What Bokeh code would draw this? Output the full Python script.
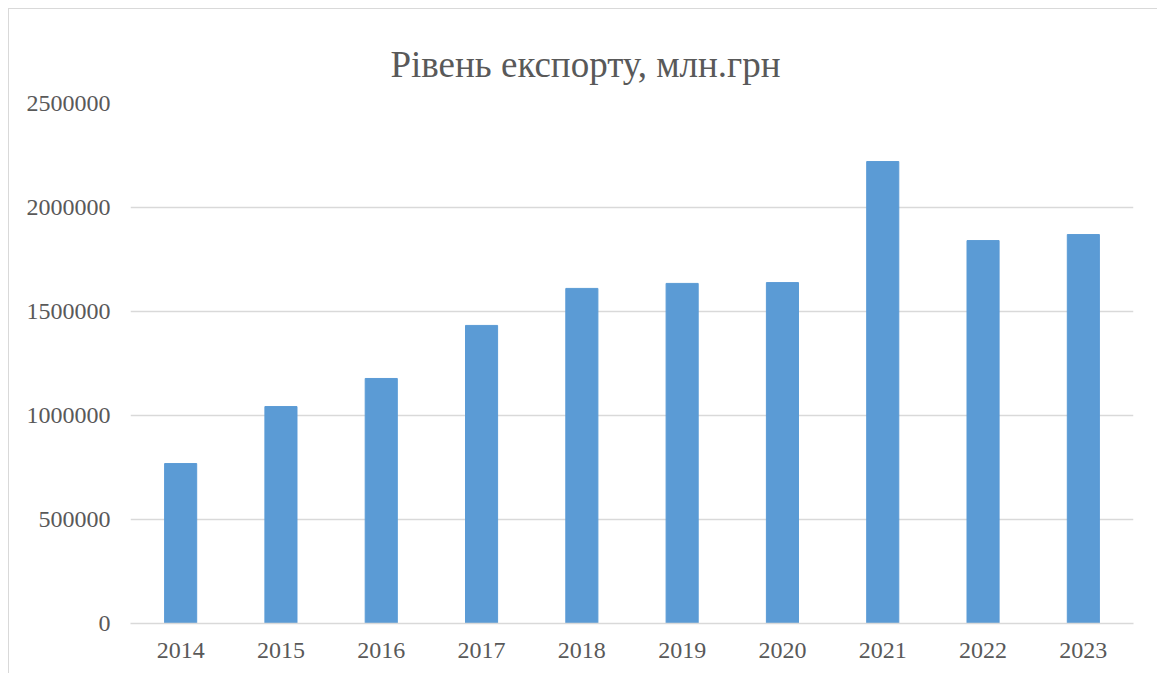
from bokeh.plotting import figure
from bokeh.models import FixedTicker, NumeralTickFormatter, Title
from bokeh.embed import file_html
from bokeh.resources import INLINE

years = ["2014", "2015", "2016", "2017", "2018", "2019", "2020", "2021", "2022", "2023"]
export_values = [769000, 1043000, 1178000, 1433000, 1611000, 1635000, 1639000, 2221000, 1841000, 1870000]
y_ticks = [0, 500000, 1000000, 1500000, 2000000, 2500000]

FONT = "Liberation Serif"
TXT = "#595959"
GRID = "#D9D9D9"

p = figure(x_range=years, y_range=(0, 2500000), width=1149, height=665,
           output_backend="svg", toolbar_location=None,
           min_border_left=121, min_border_right=25, min_border_top=94, min_border_bottom=51)
p.styles = {"border-left": "1.5px solid #D9D9D9", "border-top": "1.5px solid #D9D9D9",
            "box-sizing": "border-box", "margin-left": "8px", "margin-top": "8px"}

p.vbar(x=years, top=export_values, width=0.32, color="#5B9BD5")

t = Title(text="Рівень експорту, млн.грн", align="left", vertical_align="top",
          text_font=FONT, text_font_size="37px", text_font_style="normal", text_color=TXT,
          standoff=33, offset=260)
p.add_layout(t, "above")
p.title.visible = False

p.outline_line_color = None
p.background_fill_color = "white"
p.border_fill_color = "white"

p.yaxis.ticker = FixedTicker(ticks=y_ticks)
p.yaxis.formatter = NumeralTickFormatter(format="0")
p.yaxis.axis_line_color = None
p.yaxis.major_tick_line_color = None
p.yaxis.minor_tick_line_color = None
p.yaxis.major_label_text_font = FONT
p.yaxis.major_label_text_font_size = "24px"
p.yaxis.major_label_text_color = TXT
p.yaxis.major_label_standoff = 14

p.xaxis.axis_line_color = GRID
p.xaxis.axis_line_width = 1.5
p.xaxis.major_tick_line_color = None
p.xaxis.minor_tick_line_color = None
p.xaxis.major_label_text_font = FONT
p.xaxis.major_label_text_font_size = "24px"
p.xaxis.major_label_text_color = TXT
p.xaxis.major_label_standoff = 13

p.xgrid.grid_line_color = None
p.ygrid.grid_line_color = GRID
p.ygrid.grid_line_width = 1.5

open("out.html", "w").write(file_html(p, INLINE))
